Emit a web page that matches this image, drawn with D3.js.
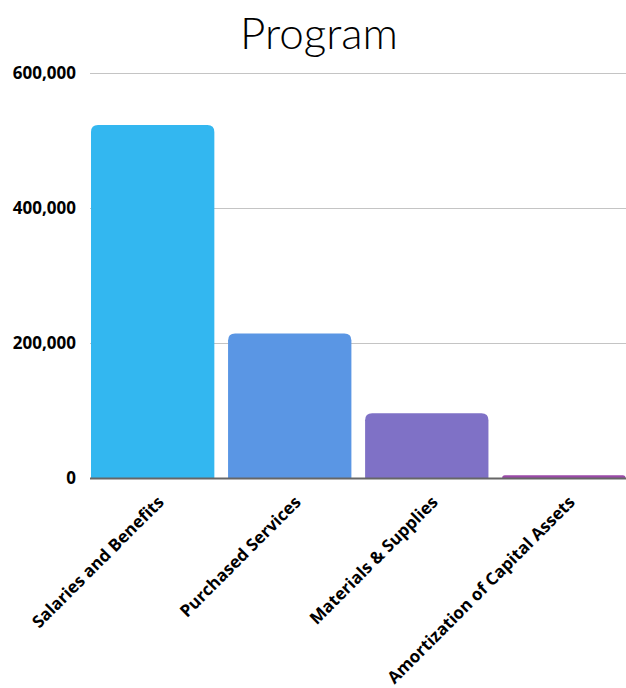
<!DOCTYPE html>
<html>
<head>
<meta charset="utf-8">
<script src="https://cdn.jsdelivr.net/npm/d3@7"></script>
<style>
  body { margin: 0; background: #fff; }
  svg { display: block; }
</style>
</head>
<body>
<div id="chart"></div>
<script>
// chart data
var categories = ["Salaries and Benefits", "Purchased Services", "Materials & Supplies", "Amortization of Capital Assets"];
var values = [523000, 214000, 96000, 4000];
var colors = ["#33b7f0", "#5a96e4", "#7f71c6", "#9a4aa8"];
var yTicks = [0, 200000, 400000, 600000];

var width = 626, height = 688;
var labelFont = "'Open Sans', 'DejaVu Sans', sans-serif";

var svg = d3.select("#chart").append("svg")
    .attr("width", width)
    .attr("height", height);

var x = d3.scaleBand()
    .domain(categories)
    .range([91, 625.5])
    .paddingInner(0.1)
    .paddingOuter(0);

var y = d3.scaleLinear()
    .domain([0, 600000])
    .range([478, 73]);

// title
svg.append("text")
    .attr("x", 319)
    .attr("y", 49)
    .attr("text-anchor", "middle")
    .attr("font-family", "Lato, 'Noto Sans', sans-serif")
    .attr("font-weight", 300)
    .attr("font-size", 44)
    .attr("fill", "#000")
    .text("Program");

// gridlines + y labels
var yAxis = d3.axisLeft(y)
    .tickValues(yTicks)
    .tickSize(-(width - 90))
    .tickPadding(14)
    .tickFormat(d3.format(","));

var gy = svg.append("g")
    .attr("transform", "translate(90,0)")
    .call(yAxis);
gy.select(".domain").remove();
gy.selectAll(".tick line").attr("stroke", "#c4c4c4").attr("stroke-width", 1);
gy.selectAll(".tick text")
    .attr("font-family", labelFont)
    .attr("font-weight", "bold")
    .attr("font-size", 17)
    .attr("fill", "#000");

// rounded-top bar path
function barPath(x0, w, yTop, yBase, r) {
    r = Math.min(r, yBase - yTop, w / 2);
    return "M" + x0 + "," + yBase +
        "V" + (yTop + r) +
        "Q" + x0 + "," + yTop + " " + (x0 + r) + "," + yTop +
        "H" + (x0 + w - r) +
        "Q" + (x0 + w) + "," + yTop + " " + (x0 + w) + "," + (yTop + r) +
        "V" + yBase + "Z";
}

svg.selectAll(".bar")
    .data(values)
    .enter().append("path")
    .attr("class", "bar")
    .attr("d", function (d, i) { return barPath(x(categories[i]), x.bandwidth(), y(d), y(0), 7); })
    .attr("fill", function (d, i) { return colors[i]; });

// baseline
svg.append("line")
    .attr("x1", 90).attr("x2", width)
    .attr("y1", y(0) + 0.5).attr("y2", y(0) + 0.5)
    .attr("stroke", "#666")
    .attr("stroke-width", 2);

// rotated category labels
svg.selectAll(".xlabel")
    .data(categories)
    .enter().append("text")
    .attr("class", "xlabel")
    .attr("transform", function (d) {
        return "translate(" + (x(d) + x.bandwidth() / 2 + 5) + ",496) rotate(-45)";
    })
    .attr("text-anchor", "end")
    .attr("dy", "0.6em")
    .attr("font-family", labelFont)
    .attr("font-weight", "bold")
    .attr("font-size", 17)
    .attr("fill", "#000")
    .text(function (d) { return d; });
</script>
</body>
</html>
